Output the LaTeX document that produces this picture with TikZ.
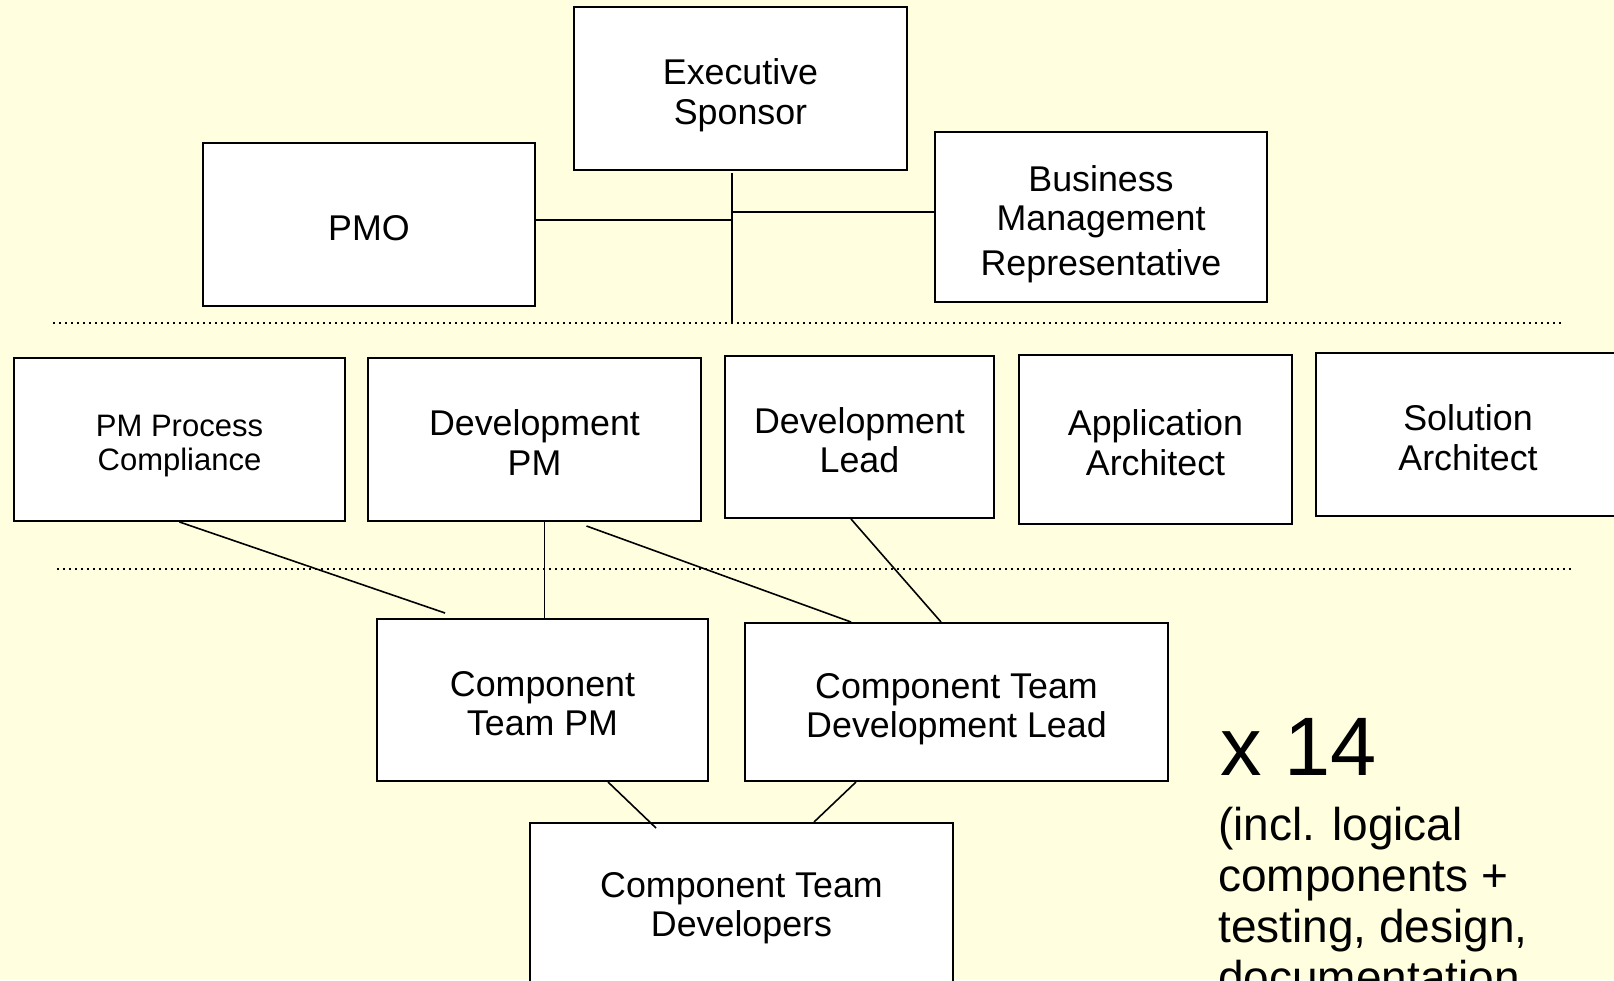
\documentclass[tikz,border=0pt]{standalone}
\usepackage{fontspec}
\setmainfont{Liberation Sans}
\definecolor{bgyellow}{RGB}{255,255,224}
% fixed first-line height so every box label sits at the same level
\newcommand{\hdstrut}{\rule{0pt}{1.12em}}
\begin{document}
\begin{tikzpicture}[x=1pt,y=-1pt,
  box/.style={draw=black, fill=white, line width=2pt, align=center, inner sep=0pt,
              font=\fontsize{35.8}{39.5}\selectfont,
              execute at end node={\rule[-0.22em]{0pt}{0pt}}},
  smallbox/.style={box, font=\fontsize{31}{34}\selectfont},
  link/.style={draw=black, line width=1.6pt},
  sepline/.style={draw=black, line width=1.5pt, dash pattern=on 1.5pt off 4.5pt},
  note/.style={anchor=base west, inner sep=0pt, font=\fontsize{46}{51}\selectfont}]
\useasboundingbox (0,0) rectangle (1614,980);
\fill[bgyellow] (0,0) rectangle (1614,980);
\clip (0,0) rectangle (1614,980);

% level separators
\draw[sepline] (53,323) -- (1565,323);
\draw[sepline] (57,569) -- (1571,569);

% top level
\node[box, minimum width=333, minimum height=163] (exec) at (740.5,88.5) {\hdstrut Executive\\Sponsor};
\node[box, minimum width=332, minimum height=163] (pmo) at (369,224.5) {\hdstrut PMO};
\node[box, minimum width=332, minimum height=170] (bmr) at (1101,217) {\hdstrut Business\\Management\\[5pt]Representative};

% project level
\node[smallbox, minimum width=331, minimum height=163] (pmpc) at (179.5,439.5) {\hdstrut PM Process\\Compliance};
\node[box, minimum width=333, minimum height=163] (devpm) at (534.5,439.5) {\hdstrut Development\\PM};
\node[box, minimum width=269, minimum height=162] (devlead) at (859.5,437) {\hdstrut Development\\Lead};
\node[box, minimum width=273, minimum height=169] (apparch) at (1155.5,439.5) {\hdstrut Application\\Architect};
\node[box, minimum width=304, minimum height=163] (solarch) at (1468,434.5) {\hdstrut Solution\\Architect};

% component level (the developers box runs past the lower edge)
\node[box, minimum width=331, minimum height=162] (ctpm) at (542.5,700) {\hdstrut Component\\Team PM};
\node[box, minimum width=423, minimum height=158] (ctdl) at (956.5,702) {\hdstrut Component Team\\Development Lead};
\node[box, minimum width=423, minimum height=176] (ctd) at (741.5,911) {\hdstrut Component Team\\Developers\rule[-28pt]{0pt}{0pt}};

% steering trunk
\coordinate (trunktop) at (732,173);
\coordinate (trunkbot) at (732,323);
\draw[link] (trunktop) -- (trunkbot);
\draw[link] ([yshift=4.5pt]pmo.east) -- ([yshift=4.5pt]pmo.east -| trunktop);
\draw[link] ([yshift=5pt]bmr.west) -- ([yshift=5pt]bmr.west -| trunktop);

% reporting lines
\draw[link] (pmpc.south) -- ([xshift=69pt,yshift=5pt]ctpm.north west);
\draw[link] ([xshift=2pt]ctpm.north) -- ([xshift=2pt]ctpm.north |- devpm.south);
\draw[link] ([xshift=52pt,yshift=-4pt]devpm.south) -- ([xshift=107pt]ctdl.north west);
\draw[link] ([xshift=-8.5pt]devlead.south) -- ([xshift=-15.5pt]ctdl.north);
\draw[link] ([xshift=65.5pt]ctpm.south) -- ([xshift=-85.5pt,yshift=-6pt]ctd.north);
\draw[link] ([xshift=-100.5pt]ctdl.south) -- ([xshift=72.5pt]ctd.north);

% multiplicity note
\node[anchor=base west, inner sep=0pt, font=\fontsize{83}{90}\selectfont] (mult) at (1220,775) {x 14};
\node[note] (n1) at (1218,840) {(incl. logical};
\node[note] (n2) at (1218,891) {components +};
\node[note] (n3) at (1218,942) {testing, design,};
\node[note] (n4) at (1218,993) {documentation};
\end{tikzpicture}
\end{document}
